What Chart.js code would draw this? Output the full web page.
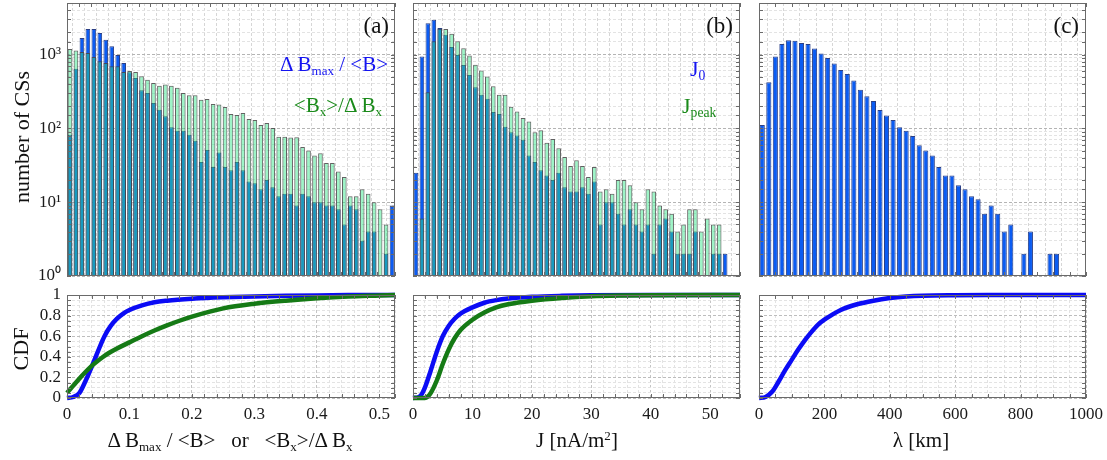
<!DOCTYPE html>
<html>
<head>
<meta charset="utf-8">
<script src="https://cdn.jsdelivr.net/npm/chart.js@4.4.1/dist/chart.umd.min.js"></script>
<style>
  body { margin: 0; background: #fff; width: 1107px; height: 460px; position: relative; overflow: hidden; }
  .box { position: absolute; }
  .txt { position: absolute; white-space: nowrap; font-family: "Liberation Serif", serif; line-height: 1; color: #111; z-index: 5; }
  .txt sub { font-size: 0.62em; vertical-align: -0.3em; line-height: 0; }
  .txt sup { font-size: 0.62em; vertical-align: 0.55em; line-height: 0; }
  .blue { color: #1414f0; }
  .green { color: #1a8a1a; }
</style>
</head>
<body>
<div class="box" style="left:0;top:0"><canvas id="histA" width="400" height="290"></canvas></div>
<div class="box" style="left:400px;top:0"><canvas id="histB" width="345" height="290"></canvas></div>
<div class="box" style="left:745px;top:0"><canvas id="histC" width="350" height="290"></canvas></div>
<div class="box" style="left:0;top:280px"><canvas id="cdfA" width="400" height="180"></canvas></div>
<div class="box" style="left:400px;top:280px"><canvas id="cdfB" width="345" height="180"></canvas></div>
<div class="box" style="left:745px;top:280px"><canvas id="cdfC" width="362" height="180"></canvas></div>

<div class="txt" style="left:22px;top:137px;font-size:22px;transform:translate(-50%,-50%) rotate(-90deg)">number of CSs</div>
<div class="txt" style="left:21px;top:349px;font-size:22px;transform:translate(-50%,-50%) rotate(-90deg)">CDF</div>

<div class="txt" style="right:718px;top:14px;font-size:23px">(a)</div>
<div class="txt" style="right:374px;top:14px;font-size:23px">(b)</div>
<div class="txt" style="right:28px;top:14px;font-size:23px">(c)</div>

<div class="txt blue" style="right:719px;top:54px;font-size:21px">&Delta; B<sub>max</sub> / &lt;B&gt;</div>
<div class="txt green" style="right:725px;top:95px;font-size:21px">&lt;B<sub>x</sub>&gt;/&Delta; B<sub>x</sub></div>
<div class="txt blue" style="left:690px;top:58px;font-size:22px">J<sub>0</sub></div>
<div class="txt green" style="left:682px;top:95px;font-size:22px">J<sub>peak</sub></div>

<div class="txt" style="left:230px;top:430px;font-size:21px;transform:translateX(-50%)">&Delta; B<sub>max</sub> / &lt;B&gt; &nbsp;&nbsp;or &nbsp;&nbsp;&lt;B<sub>x</sub>&gt;/&Delta; B<sub>x</sub></div>
<div class="txt" style="left:577px;top:430px;font-size:21px;transform:translateX(-50%)">J [nA/m<sup>2</sup>]</div>
<div class="txt" style="left:921px;top:430px;font-size:21px;transform:translateX(-50%)">&lambda; [km]</div>

<script>
// histogram bins (left edge, width, count)
var ratioBins = binCentres(0, 0.01, 55);
var jBins = binCentres(0, 1, 53);
var lambdaBins = binCentres(0, 20, 46);

// panel (a): Delta B_max/<B> (blue) and <B_x>/Delta B_x (green)
var dbMaxCounts = [82, 645, 1683, 2230, 2230, 1968, 1585, 1297, 989, 771,
  575, 480, 328, 302, 221, 179, 146, 104, 93, 93,
  82, 68, 35, 51, 30, 47, 30, 27, 35, 27,
  19, 18, 15, 20, 16, 12, 13, 13, 9, 13,
  12, 10, 10, 9, 9, 8, 5, 9, 8, 3,
  4, 4, null, 2, 9];
var bxCounts = [1194, 1133, 1087, 1054, 929, 813, 771, 695, 695, 582,
  600, 582, 508, 457, 412, 379, 392, 379, 354, 302,
  281, 281, 245, 250, 214, 211, 195, 157, 152, 162,
  134, 130, 111, 118, 101, 77, 77, 75, 76, 56,
  50, 43, 46, 34, 34, 26, 22, 12, 12, 15,
  13, 10, 8, 5, null];

// panel (b): J0 (blue) and Jpeak (green)
var j0Counts = [25, 939, 2660, 2960, 2300, 1850, 1270, 990, 724, 530,
  360, 286, 253, 167, 157, 105, 89, 80, 70, 43,
  35, 27, 23, 20, 25, 16, 14, 14, 16, 13,
  19, 5, 10, 10, 7, 5, 8, 5, 4, 5,
  2, 5, 6, 4, 2, 2, 2, 4, null, null,
  2, 2, 2];
var jPeakCounts = [null, 6, 308, 1517, 2240, 2230, 1910, 1517, 1219, 969,
  731, 607, 503, 372, 286, 286, 197, 170, 138, 124,
  89, 94, 64, 72, 54, 41, 31, 37, 31, 22,
  30, 14, 15, 13, 20, 20, 17, 10, 8, 15,
  14, 9, 8, 7, 4, 5, 8, 8, 4, 6,
  5, 5, null];

// panel (c): lambda
var lambdaCounts = [111, 421, 939, 1396, 1566, 1534, 1439, 1396, 1206, 1032,
  901, 755, 619, 547, 444, 335, 272, 235, 177, 150,
  130, 104, 93, 79, 59, 50, 43, 30, 23, 23,
  17, 15, 12, 11, 7, 9, 7, 4, 5, null,
  2, 4, null, null, 2, 2];

// CDF curves
var cdfDbMaxX = [0, 0.01, 0.02, 0.03, 0.04, 0.05, 0.06, 0.07, 0.08, 0.09, 0.10, 0.12, 0.14, 0.16, 0.20, 0.25, 0.30, 0.35, 0.40, 0.45, 0.50, 0.525];
var cdfDbMaxY = [0, 0.01, 0.05, 0.17, 0.31, 0.46, 0.6, 0.7, 0.77, 0.82, 0.855, 0.90, 0.93, 0.945, 0.963, 0.977, 0.986, 0.992, 0.996, 0.999, 1, 1];
var cdfBxX = [0, 0.01, 0.02, 0.03, 0.04, 0.05, 0.06, 0.08, 0.10, 0.12, 0.14, 0.16, 0.18, 0.20, 0.25, 0.30, 0.35, 0.40, 0.45, 0.50, 0.525];
var cdfBxY = [0.05, 0.12, 0.19, 0.255, 0.315, 0.365, 0.41, 0.48, 0.54, 0.6, 0.655, 0.705, 0.75, 0.79, 0.87, 0.915, 0.945, 0.968, 0.985, 0.995, 1];
var cdfJ0X = [0, 1, 1.5, 2, 3, 4, 5, 6, 7, 8, 10, 12, 14, 16, 20, 25, 30, 40, 55];
var cdfJ0Y = [0, 0.01, 0.04, 0.1, 0.27, 0.45, 0.6, 0.7, 0.77, 0.82, 0.88, 0.925, 0.95, 0.965, 0.982, 0.992, 0.997, 1, 1];
var cdfJPeakX = [0, 2, 2.5, 3, 4, 5, 6, 7, 8, 10, 12, 14, 16, 20, 25, 30, 35, 40, 55];
var cdfJPeakY = [0, 0, 0.015, 0.05, 0.17, 0.33, 0.47, 0.58, 0.66, 0.76, 0.83, 0.88, 0.91, 0.945, 0.972, 0.988, 0.995, 0.998, 1];
var cdfLambdaX = [0, 20, 40, 60, 80, 100, 120, 140, 160, 180, 200, 250, 300, 350, 400, 450, 500, 600, 700, 1000];
var cdfLambdaY = [0, 0.01, 0.06, 0.16, 0.27, 0.37, 0.47, 0.56, 0.64, 0.71, 0.76, 0.855, 0.91, 0.945, 0.97, 0.985, 0.993, 0.998, 1, 1];

var SERIF = '"Liberation Serif", serif';
var BLUE_BAR = '#0b5cf2';
var GREEN_BAR = 'rgba(40, 230, 130, 0.45)';
var BLUE_LINE = '#0b0bf5';
var GREEN_LINE = '#157a15';
var SUP = ['\u2070', '\u00b9', '\u00b2', '\u00b3', '\u2074'];

Chart.defaults.font.family = SERIF;
Chart.defaults.color = '#1a1a1a';

function binCentres(start, width, n) {
  var out = [];
  for (var i = 0; i < n; i++) out.push(start + (i + 0.5) * width);
  return out;
}

function points(xs, ys) {
  return xs.map(function(x, i) { return {x: x, y: ys[i]}; });
}

// box round the plot area with short inward ticks
var framePlugin = {
  id: 'frame',
  afterDraw: function(chart) {
    var a = chart.chartArea, ctx = chart.ctx;
    ctx.save();
    ctx.strokeStyle = '#6a6a6a';
    ctx.lineWidth = 1;
    ctx.beginPath();
    chart.scales.x.ticks.forEach(function(t, i) {
      var px = Math.round(chart.scales.x.getPixelForTick(i)) + 0.5;
      ctx.moveTo(px, a.bottom); ctx.lineTo(px, a.bottom - 4);
      ctx.moveTo(px, a.top); ctx.lineTo(px, a.top + 4);
    });
    chart.scales.y.ticks.forEach(function(t, i) {
      var py = Math.round(chart.scales.y.getPixelForTick(i)) + 0.5;
      ctx.moveTo(a.left, py); ctx.lineTo(a.left + 4, py);
      ctx.moveTo(a.right, py); ctx.lineTo(a.right - 4, py);
    });
    ctx.stroke();
    ctx.strokeRect(Math.round(a.left) + 0.5, Math.round(a.top) + 0.5,
      Math.round(a.right - a.left) - 1, Math.round(a.bottom - a.top) - 1);
    ctx.restore();
  }
};

function isDecade(v) {
  var e = Math.log10(v);
  return Math.abs(e - Math.round(e)) < 1e-6;
}

function fixWidth(w) {
  return function(s) { s.width = w; s.paddingTop = 0; s.paddingBottom = 0; };
}

function fixHeight(h) {
  return function(s) { s.height = h; s.paddingLeft = 0; s.paddingRight = 0; };
}

function barSet(xs, ys, colour, border, order) {
  return {
    data: points(xs, ys),
    backgroundColor: colour,
    borderColor: border,
    borderWidth: 1,
    borderSkipped: false,
    grouped: false,
    barPercentage: 0.78,
    categoryPercentage: 1,
    order: order
  };
}

function histogram(canvasId, datasets, xMax, xStep, leftWidth, rightPad, showY) {
  return new Chart(document.getElementById(canvasId), {
    type: 'bar',
    data: {datasets: datasets},
    plugins: [framePlugin],
    options: {
      responsive: false,
      animation: false,
      layout: {padding: {top: 3, right: rightPad, left: 0, bottom: 0}},
      plugins: {legend: {display: false}, tooltip: {enabled: false}},
      scales: {
        x: {
          type: 'linear', min: 0, max: xMax, offset: false,
          ticks: {display: false, stepSize: xStep, autoSkip: false},
          grid: {color: '#d6d6d6', drawTicks: false},
          border: {display: false, dash: [3, 2]},
          afterFit: fixHeight(14)
        },
        y: {
          type: 'logarithmic', min: 1, max: 5000,
          ticks: {
            display: showY, autoSkip: false, padding: 6,
            font: {size: 17, family: SERIF}, color: '#1a1a1a',
            callback: function(v) {
              return isDecade(v) ? '10' + SUP[Math.round(Math.log10(v))] : '';
            }
          },
          grid: {
            drawTicks: false,
            color: function(c) { return c.tick && isDecade(c.tick.value) ? '#b4b4b4' : '#e3e3e3'; }
          },
          border: {display: false, dash: [3, 2]},
          afterFit: fixWidth(leftWidth)
        }
      }
    }
  });
}

function cdfPanel(canvasId, datasets, xMax, xStep, labelStep, leftWidth, rightPad, showY) {
  return new Chart(document.getElementById(canvasId), {
    type: 'line',
    data: {datasets: datasets},
    plugins: [framePlugin],
    options: {
      responsive: false,
      animation: false,
      layout: {padding: {top: 15, right: rightPad, left: 0, bottom: 0}},
      plugins: {legend: {display: false}, tooltip: {enabled: false}},
      elements: {point: {radius: 0}},
      scales: {
        x: {
          type: 'linear', min: 0, max: xMax,
          ticks: {
            stepSize: xStep, autoSkip: false, maxRotation: 0, padding: 6,
            font: {size: 17, family: SERIF}, color: '#1a1a1a',
            callback: function(v) {
              var k = v / labelStep;
              if (Math.abs(k - Math.round(k)) > 1e-6) return '';
              return String(parseFloat((Math.round(k) * labelStep).toFixed(3)));
            }
          },
          grid: {
            drawTicks: false,
            color: function(c) {
              var k = c.tick ? c.tick.value / labelStep : 0.5;
              return Math.abs(k - Math.round(k)) < 1e-6 ? '#c4c4c4' : '#e3e3e3';
            }
          },
          border: {display: false, dash: [3, 2]},
          afterFit: fixHeight(62)
        },
        y: {
          type: 'linear', min: 0, max: 1,
          ticks: {
            display: showY, stepSize: 0.05, autoSkip: false, padding: 6,
            font: {size: 17, family: SERIF}, color: '#1a1a1a',
            callback: function(v) {
              var k = v * 5;
              if (Math.abs(k - Math.round(k)) > 1e-6) return '';
              var r = Math.round(k) / 5;
              return r === 0 || r === 1 ? String(r) : r.toFixed(1);
            }
          },
          grid: {
            drawTicks: false,
            color: function(c) {
              var k = c.tick ? c.tick.value * 5 : 0.5;
              return Math.abs(k - Math.round(k)) < 1e-6 ? '#bdbdbd' : '#e3e3e3';
            }
          },
          border: {display: false, dash: [3, 2]},
          afterFit: fixWidth(leftWidth)
        }
      }
    }
  });
}

function lineSet(xs, ys, colour) {
  return {
    data: points(xs, ys),
    borderColor: colour,
    borderWidth: 4.5,
    fill: false,
    cubicInterpolationMode: 'monotone',
    clip: 6
  };
}

histogram('histA', [
  barSet(ratioBins, dbMaxCounts, BLUE_BAR, '#2a3f86', 2),
  barSet(ratioBins, bxCounts, GREEN_BAR, 'rgba(70,70,70,0.85)', 1)
], 0.55, 0.02, 67, 5, true);

histogram('histB', [
  barSet(jBins, j0Counts, BLUE_BAR, '#2a3f86', 2),
  barSet(jBins, jPeakCounts, GREEN_BAR, 'rgba(70,70,70,0.85)', 1)
], 55, 2, 13, 5, false);

histogram('histC', [
  barSet(lambdaBins, lambdaCounts, BLUE_BAR, '#2a3f86', 1)
], 1000, 50, 14, 9, false);

cdfPanel('cdfA', [
  lineSet(cdfBxX, cdfBxY, GREEN_LINE),
  lineSet(cdfDbMaxX, cdfDbMaxY, BLUE_LINE)
], 0.525, 0.02, 0.1, 67, 5, true);

cdfPanel('cdfB', [
  lineSet(cdfJPeakX, cdfJPeakY, GREEN_LINE),
  lineSet(cdfJ0X, cdfJ0Y, BLUE_LINE)
], 55, 2, 10, 13, 5, false);

cdfPanel('cdfC', [
  lineSet(cdfLambdaX, cdfLambdaY, BLUE_LINE)
], 1000, 50, 200, 14, 21, false);
</script>
</body>
</html>
